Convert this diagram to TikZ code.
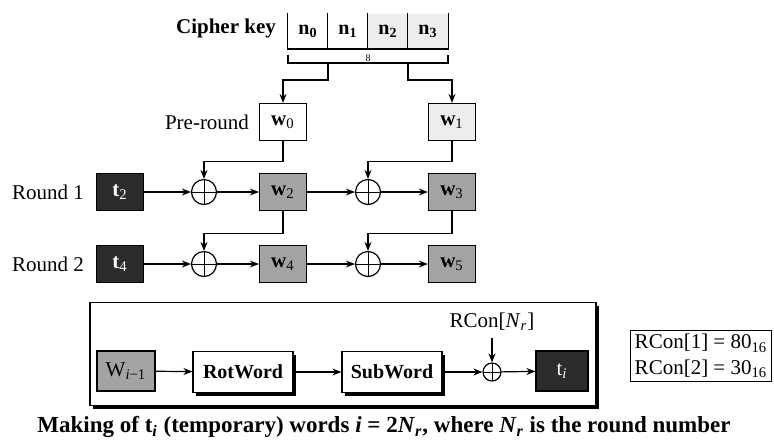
\documentclass[tikz,border=0pt]{standalone}
\usepackage{fontspec}
\setmainfont{Liberation Serif}
\usetikzlibrary{arrows.meta,shadows}
\definecolor{wordgray}{HTML}{A3A3A3}
\definecolor{tempdark}{HTML}{2C2C2C}
\colorlet{halfgray}{black!7}
\tikzset{
  linkline/.style={line width=0.6pt, -{Stealth[length=4.5pt, width=3.5pt]}},
  plainline/.style={line width=0.6pt},
  keycell/.style={minimum width=20pt, minimum height=17.5pt, inner sep=0pt, font=\bfseries},
  wordbox/.style={draw, line width=0.6pt, minimum width=23.5pt, minimum height=18.5pt, inner sep=0pt},
  wordshade/.style={wordbox, fill=wordgray},
  tempbox/.style={wordbox, fill=tempdark, text=white},
  xorop/.style={circle, draw, line width=0.6pt, minimum size=12.5pt, inner sep=0pt,
    path picture={\draw[line width=0.5pt] (path picture bounding box.north) -- (path picture bounding box.south)
      (path picture bounding box.west) -- (path picture bounding box.east);}},
  funcbox/.style={draw, fill=white, line width=0.6pt, minimum width=50pt, minimum height=20.5pt,
    inner sep=0pt, font=\bfseries, drop shadow={shadow xshift=1.5pt, shadow yshift=-1.5pt, fill=black, opacity=1}},
  panelbox/.style={draw, fill=white, line width=0.6pt, minimum width=253pt, minimum height=51.5pt,
    inner sep=0pt, drop shadow={shadow xshift=1.5pt, shadow yshift=-1.5pt, fill=black, opacity=1}},
}

\begin{document}
\begin{tikzpicture}[x=0.5pt,y=-0.5pt, font=\fontsize{10.5}{12.6}\selectfont]
\useasboundingbox (0,0) rectangle (774,446);
\node[font=\fontsize{10.5}{12.6}\selectfont\bfseries] (keylabel) at (226,28) {Cipher key};
\node[keycell] (n0) at (308,31) {n\textsubscript{0}};
\node[keycell] (n1) at (348,31) {n\textsubscript{1}};
\node[keycell, fill=halfgray] (n2) at (388,31) {n\textsubscript{2}};
\node[keycell, fill=halfgray] (n3) at (428,31) {n\textsubscript{3}};
\draw[plainline] (n0.north west) -- (n0.south west) -- (n3.south east) -- (n3.north east);
\draw[plainline] (n1.north west) -- (n1.south west);
\draw[plainline] (n2.north west) -- (n2.south west);
\draw[plainline] (n3.north west) -- (n3.south west);
\coordinate (brL) at (288,63);
\coordinate (brR) at (448,63);
\draw[plainline] (brL) ++(0,-8) -- (brL) -- (brR) -- ++(0,-8);
\node[font=\tiny, inner sep=0.5pt] (keylen) at (368,58) {8};
\coordinate (tapL) at (328,63);
\coordinate (tapR) at (408,63);

\node (pre) at (207,122) {Pre-round};
\node[wordbox] (w0) at (283,122) {\textbf{w}\textsubscript{0}};
\node[wordbox, fill=halfgray] (w1) at (452,122) {\textbf{w}\textsubscript{1}};
\draw[linkline] (tapL) -- ++(0,17) -| (w0.north);
\draw[linkline] (tapR) -- ++(0,17) -| (w1.north);

\node (round1) at (48,192) {Round 1};
\node[tempbox] (t2) at (120,192) {\textbf{t}\textsubscript{2}};
\node[xorop] (xa) at (204,192) {};
\node[wordshade] (w2) at (283,192) {\textbf{w}\textsubscript{2}};
\node[xorop] (xb) at (368,192) {};
\node[wordshade] (w3) at (452,192) {\textbf{w}\textsubscript{3}};
\draw[linkline] (w0.south) -- ++(0,20) -| (xa.north);
\draw[linkline] (w1.south) -- ++(0,20) -| (xb.north);
\draw[linkline] (t2) -- (xa);
\draw[linkline] (xa) -- (w2);
\draw[linkline] (w2) -- (xb);
\draw[linkline] (xb) -- (w3);

\node (round2) at (48,264) {Round 2};
\node[tempbox] (t4) at (120,264) {\textbf{t}\textsubscript{4}};
\node[xorop] (xc) at (204,264) {};
\node[wordshade] (w4) at (283,264) {\textbf{w}\textsubscript{4}};
\node[xorop] (xd) at (368,264) {};
\node[wordshade] (w5) at (452,264) {\textbf{w}\textsubscript{5}};
\draw[linkline] (w2.south) -- ++(0,22) -| (xc.north);
\draw[linkline] (w3.south) -- ++(0,22) -| (xd.north);
\draw[linkline] (t4) -- (xc);
\draw[linkline] (xc) -- (w4);
\draw[linkline] (w4) -- (xd);
\draw[linkline] (xd) -- (w5);

\node[panelbox] (panel) at (343,354) {};
\node[wordshade, minimum width=29pt, minimum height=20pt] (wprev) at (126,371) {W\textsubscript{\textit{i}−1}};
\node[funcbox] (rot) at (243,372) {RotWord};
\node[funcbox] (sub) at (392,372) {SubWord};
\node[xorop, minimum size=9pt] (xr) at (492,372) {};
\node (rcon) at (492,322) {RCon[\textit{N}\textsubscript{\textit{r}}]};
\node[tempbox, minimum width=26pt, minimum height=20pt] (ti) at (562,371) {t\textsubscript{\textit{i}}};
\draw[linkline] (wprev) -- (rot);
\draw[linkline] (rot) -- (sub);
\draw[linkline] (sub) -- (xr);
\draw[linkline] (rcon) -- (xr);
\draw[linkline] (xr) -- (ti);

\node[draw, line width=0.6pt, align=left, inner sep=2pt] (rtab) at (701,356)
  {RCon[1] = 80\textsubscript{16}\\RCon[2] = 30\textsubscript{16}};

\node[font=\fontsize{11.5}{13.8}\selectfont\bfseries] (caption) at (384,427)
  {Making of t\textsubscript{\textit{i}} (temporary) words \textit{i} = 2\textit{N}\textsubscript{\textit{r}}, where \textit{N}\textsubscript{\textit{r}} is the round number};
\end{tikzpicture}
\end{document}
